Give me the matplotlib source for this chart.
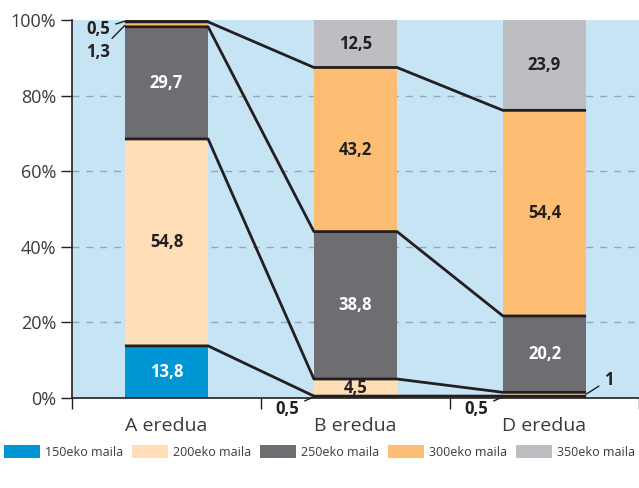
import matplotlib.pyplot as plt
import numpy as np

categories = ["A eredua", "B eredua", "D eredua"]
series = ["150eko maila", "200eko maila", "250eko maila", "300eko maila", "350eko maila"]
v150 = [13.8, 0.5, 0.5]
v200 = [54.8, 4.5, 1.0]
v250 = [29.7, 38.8, 20.2]
v300 = [1.3, 43.2, 54.4]
v350 = [0.5, 12.5, 23.9]
colors = ["#0096D6", "#FEDDB7", "#6D6E72", "#FDBE74", "#BDBEC1"]
text_colors = ["white", "#231F20", "white", "#231F20", "#231F20"]

plt.rcParams['font.family'] = ['Open Sans', 'DejaVu Sans']

values = np.array([v150, v200, v250, v300, v350])
# 100% stacked: scale each column to its total
shares = values / values.sum(axis=0) * 100
x = np.arange(len(categories)) + 0.5
width = 0.44

fig = plt.figure(figsize=(6.39, 4.88), dpi=100)
ax = fig.add_axes([72 / 639, 90 / 488, 567 / 639, 378 / 488])
ax.set_facecolor("#C6E4F4")

bottoms = np.zeros(len(categories))
for i, name in enumerate(series):
    ax.bar(x, shares[i], width, bottom=bottoms, color=colors[i], label=name, zorder=2)
    for j in range(len(categories)):
        v = values[i][j]
        if v >= 4:
            ax.text(x[j], bottoms[j] + shares[i][j] / 2, f"{v:.1f}".replace(".", ","),
                    ha="center", va="center", fontsize=12, fontweight="bold",
                    color=text_colors[i], zorder=4)
    bottoms += shares[i]

# boundary lines across the bars and connectors between them
cum = np.cumsum(shares, axis=0)
for k in range(4):
    xs, ys = [], []
    for j in range(len(categories)):
        xs += [x[j] - width / 2, x[j] + width / 2]
        ys += [cum[k][j], cum[k][j]]
    ax.plot(xs, ys, color="#231F20", lw=2, zorder=3, solid_capstyle="butt")
ax.plot([x[0] - width / 2, x[0] + width / 2], [99.8, 99.8],
        color="#231F20", lw=2, zorder=3, solid_capstyle="butt")

# small value labels with leader lines
small = dict(fontsize=12, fontweight="bold", color="#231F20", annotation_clip=False)
line = dict(arrowstyle="-", lw=1, color="#231F20", shrinkA=2, shrinkB=0)
ax.annotate("0,5", xy=(x[0] - width / 2, 99.7), xytext=(0.14, 97.5), ha="center", va="center",
            arrowprops=line, **small)
ax.annotate("1,3", xy=(x[0] - width / 2, 98.6), xytext=(0.14, 91.5), ha="center", va="center",
            arrowprops=line, **small)
ax.annotate("0,5", xy=(x[1] - width / 2, 0.3), xytext=(1.14, -2.8), ha="center", va="center",
            arrowprops=line, **small)
ax.annotate("0,5", xy=(x[2] - width / 2, 0.3), xytext=(2.14, -2.8), ha="center", va="center",
            arrowprops=line, **small)
ax.annotate("1", xy=(x[2] + width / 2, 1.0), xytext=(2.84, 4.8), ha="center", va="center",
            arrowprops=line, **small)

ax.set_xlim(0, 3)
ax.set_ylim(0, 100)
ax.set_yticks([0, 20, 40, 60, 80, 100])
ax.set_yticklabels([f"{t}%" for t in range(0, 101, 20)], fontsize=13, color="#3A3A3A")
ax.set_xticks([0, 1, 2, 3])
ax.set_xticklabels([])
ax.set_xticks(x, minor=True)
ax.set_xticklabels(categories, minor=True, fontsize=14, color="#3A3A3A")
ax.tick_params(axis="x", which="major", length=8, width=1, direction="out", color="#231F20")
ax.tick_params(axis="x", which="minor", length=0, pad=14)
ax.tick_params(axis="y", length=8, width=1, color="#231F20")
for t in [20, 40, 60, 80]:
    ax.axhline(t, color="#9AA5AD", lw=1, ls=(0, (5, 5)), zorder=1)
for s in ["top", "right"]:
    ax.spines[s].set_visible(False)
ax.spines["left"].set_color("#231F20")
ax.spines["bottom"].set_color("#231F20")
ax.spines["left"].set_linewidth(1.2)
ax.spines["bottom"].set_linewidth(1.2)

fig.legend(loc="center", bbox_to_anchor=(0.5, 1 - 452 / 488), ncol=5, frameon=False,
           fontsize=9, handlelength=2.9, handleheight=1.2, handletextpad=0.4,
           columnspacing=0.7, labelcolor="#3A3A3A", borderaxespad=0, borderpad=0)

fig.savefig("out.png", dpi=100)
